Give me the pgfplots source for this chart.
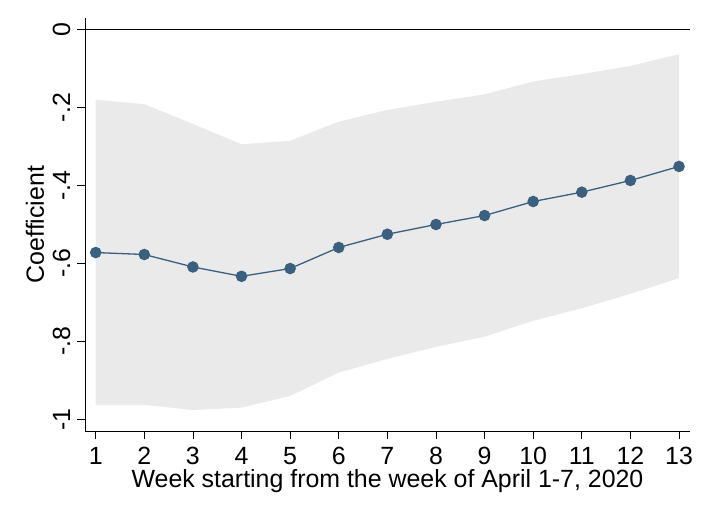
\documentclass[border=0pt]{standalone}
\usepackage{pgfplots}
\usepackage{pgfplotstable}
\pgfplotsset{compat=1.18}
\usepgfplotslibrary{fillbetween}
\usepackage{fontspec}
\setmainfont{Liberation Sans}
\definecolor{ser}{HTML}{3B5F7F}
\definecolor{band}{HTML}{EAEAEA}
\pgfplotstableread{
x b lo hi
1 -0.572 -0.963 -0.180
2 -0.577 -0.963 -0.191
3 -0.609 -0.976 -0.242
4 -0.633 -0.970 -0.294
5 -0.613 -0.940 -0.285
6 -0.559 -0.880 -0.236
7 -0.525 -0.845 -0.206
8 -0.500 -0.814 -0.185
9 -0.477 -0.788 -0.166
10 -0.441 -0.747 -0.133
11 -0.417 -0.715 -0.114
12 -0.387 -0.678 -0.093
13 -0.351 -0.638 -0.063
}\coef
\begin{document}
\begin{tikzpicture}
\begin{axis}[
  scale only axis, width=605bp, height=413bp,
  at={(0,0)}, anchor=south west,
  xmin=0.78, xmax=13.226, ymin=-1.030, ymax=0.030,
  axis x line*=bottom, axis y line*=left,
  axis line style={black, line width=0.8bp},
  tick align=outside, major tick length=8bp,
  tick style={black, line width=0.8bp},
  xtick={1,...,13}, xticklabels={1,2,3,4,5,6,7,8,9,10,11,12,13},
  ytick={-1,-0.8,-0.6,-0.4,-0.2,0}, yticklabels={-1,-.8,-.6,-.4,-.2,0},
  ticklabel style={font=\fontsize{25}{30}\selectfont},
  yticklabel style={rotate=90, anchor=base, yshift=7bp},
  xticklabel style={anchor=north, yshift=-5bp},
  label style={font=\fontsize{25}{30}\selectfont},
  xlabel={Week starting from the week of April 1-7, 2020},
  ylabel={Coefficient},
  xlabel style={at={(axis description cs:0.5,-0.138)}, anchor=base},
  ylabel style={at={(axis description cs:-0.0826,0.5)}, anchor=center},
  clip=false,
]
\addplot[name path=hi, draw=none, forget plot] table[x=x, y=hi] {\coef};
\addplot[name path=lo, draw=none, forget plot] table[x=x, y=lo] {\coef};
\addplot[band, draw=none] fill between[of=hi and lo];
\addplot[black, line width=0.9bp] coordinates {(0.78,0) (13.226,0)};
\addplot[ser, line width=1.3bp, mark=*, mark size=5.1bp, mark options={fill=ser, draw=ser}] table[x=x, y=b] {\coef};
\end{axis}
\path[use as bounding box] (-85bp,-85bp) rectangle (624bp,431bp);
\end{tikzpicture}
\end{document}
